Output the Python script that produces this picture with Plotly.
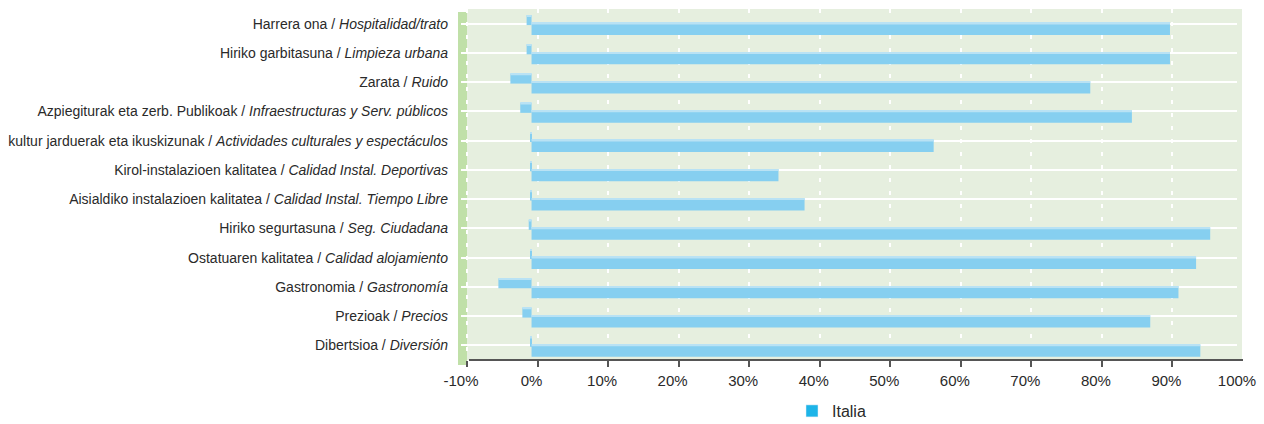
import plotly.graph_objects as go

# Category labels: Basque / Spanish (italic)
labels_eu = [
    "Harrera ona", "Hiriko garbitasuna", "Zarata", "Azpiegiturak eta zerb. Publikoak",
    "kultur jarduerak eta ikuskizunak", "Kirol-instalazioen kalitatea",
    "Aisialdiko instalazioen kalitatea", "Hiriko segurtasuna", "Ostatuaren kalitatea",
    "Gastronomia", "Prezioak", "Dibertsioa",
]
labels_es = [
    "Hospitalidad/trato", "Limpieza urbana", "Ruido", "Infraestructuras y Serv. públicos",
    "Actividades culturales y espectáculos", "Calidad Instal. Deportivas",
    "Calidad Instal. Tiempo Libre", "Seg. Ciudadana", "Calidad alojamiento",
    "Gastronomía", "Precios", "Diversión",
]

# Share of negative and positive ratings (%)
negative = [-0.7, -0.7, -3.0, -1.6, -0.2, -0.2, -0.2, -0.4, -0.2, -4.7, -1.3, -0.2]
positive = [90.5, 90.5, 79.2, 85.1, 57.0, 35.0, 38.7, 96.2, 94.2, 91.7, 87.7, 94.8]

x_ticks = [-10, 0, 10, 20, 30, 40, 50, 60, 70, 80, 90, 100]

series_name = "Italia"

FONT = "Liberation Sans, Arial, sans-serif"
BAR = "#86CFF0"
BAR_TOP = "#B9E2F4"
SWATCH = "#1DB4E8"

cats = list(range(len(labels_eu)))
ticktext = [f"{eu} / <i>{es}</i>" for eu, es in zip(labels_eu, labels_es)]

fig = go.Figure()

# negative share (upper, slightly offset bar)
fig.add_trace(go.Bar(
    y=cats, x=negative, orientation="h", offset=-0.29, width=0.34,
    marker=dict(color=BAR, line=dict(width=0)), showlegend=False, hoverinfo="x",
))
fig.add_trace(go.Bar(
    y=cats, x=negative, orientation="h", offset=-0.29, width=0.055,
    marker=dict(color=BAR_TOP, line=dict(width=0)), showlegend=False, hoverinfo="skip",
))
# positive share (main bar)
fig.add_trace(go.Bar(
    y=cats, x=positive, orientation="h", offset=-0.03, width=0.42,
    marker=dict(color=BAR, line=dict(width=0)), showlegend=False, hoverinfo="x",
))
fig.add_trace(go.Bar(
    y=cats, x=positive, orientation="h", offset=-0.03, width=0.06,
    marker=dict(color=BAR_TOP, line=dict(width=0)), showlegend=False, hoverinfo="skip",
))
# legend entry
fig.add_trace(go.Bar(
    y=[None], x=[None], orientation="h", name=series_name,
    marker=dict(color=SWATCH), showlegend=True,
))
# carrier for the back-wall grid axis
fig.add_trace(go.Scatter(
    x=[0], y=[0], xaxis="x2", mode="markers", marker=dict(opacity=0),
    showlegend=False, hoverinfo="skip",
))

W, H = 1264, 424
L, R, T, B = 461, 27, 9, 64
pw = W - L - R
ph = H - T - B
shift = 6 / (pw / 110)  # back wall offset in axis units

fig.update_layout(
    width=W, height=H,
    margin=dict(l=L, r=R, t=T, b=B, autoexpand=False),
    paper_bgcolor="white",
    plot_bgcolor="rgba(0,0,0,0)",
    barmode="overlay",
    font=dict(family=FONT, color="#333333", size=14),
    xaxis=dict(
        range=[-10, 100], tickvals=x_ticks,
        ticktext=[f"{v}%" for v in x_ticks],
        showgrid=False, zeroline=False, showline=False, ticks="",
        tickfont=dict(size=15, color="#2a2a2a"), ticklabelstandoff=10,
        automargin=False,
    ),
    xaxis2=dict(
        overlaying="x", range=[-10 - shift, 100 - shift], tick0=0, dtick=10,
        showgrid=True, gridcolor="white", gridwidth=2, griddash="4px,9px",
        zeroline=False, showline=False, showticklabels=False,
        ticks="outside", ticklen=6, tickwidth=2, tickcolor="#555555",
        side="bottom", automargin=False,
    ),
    yaxis=dict(
        range=[len(cats) - 0.5, -0.5], tickvals=cats, ticktext=ticktext,
        tickson="boundaries", showgrid=True, gridcolor="white", gridwidth=2,
        zeroline=False, showline=False, ticks="",
        tickfont=dict(size=14, color="#2a2a2a"), ticklabelstandoff=12,
        automargin=False,
    ),
    legend=dict(
        orientation="h", x=(812 - 20 - L) / pw, xanchor="left",
        y=(0 - 51) / ph, yanchor="middle",
        font=dict(size=16, color="#2a2a2a"), bgcolor="rgba(0,0,0,0)",
    ),
    shapes=[
        # back wall
        dict(type="rect", xref="paper", yref="paper", layer="below",
             x0=6 / pw, x1=(pw + 5) / pw, y0=0, y1=1,
             fillcolor="#E6EFDF", line=dict(width=0)),
        # left side wall
        dict(type="rect", xref="paper", yref="paper", layer="below",
             x0=-3 / pw, x1=6 / pw, y0=-5 / ph, y1=1 - 3 / ph,
             fillcolor="#C0E0A8", line=dict(width=0)),
        # floor edge
        dict(type="line", xref="paper", yref="paper", layer="above",
             x0=8 / pw, x1=(pw + 6) / pw, y0=0, y1=0,
             line=dict(color="#555555", width=2)),
    ],
)

fig.write_html("out.html")
